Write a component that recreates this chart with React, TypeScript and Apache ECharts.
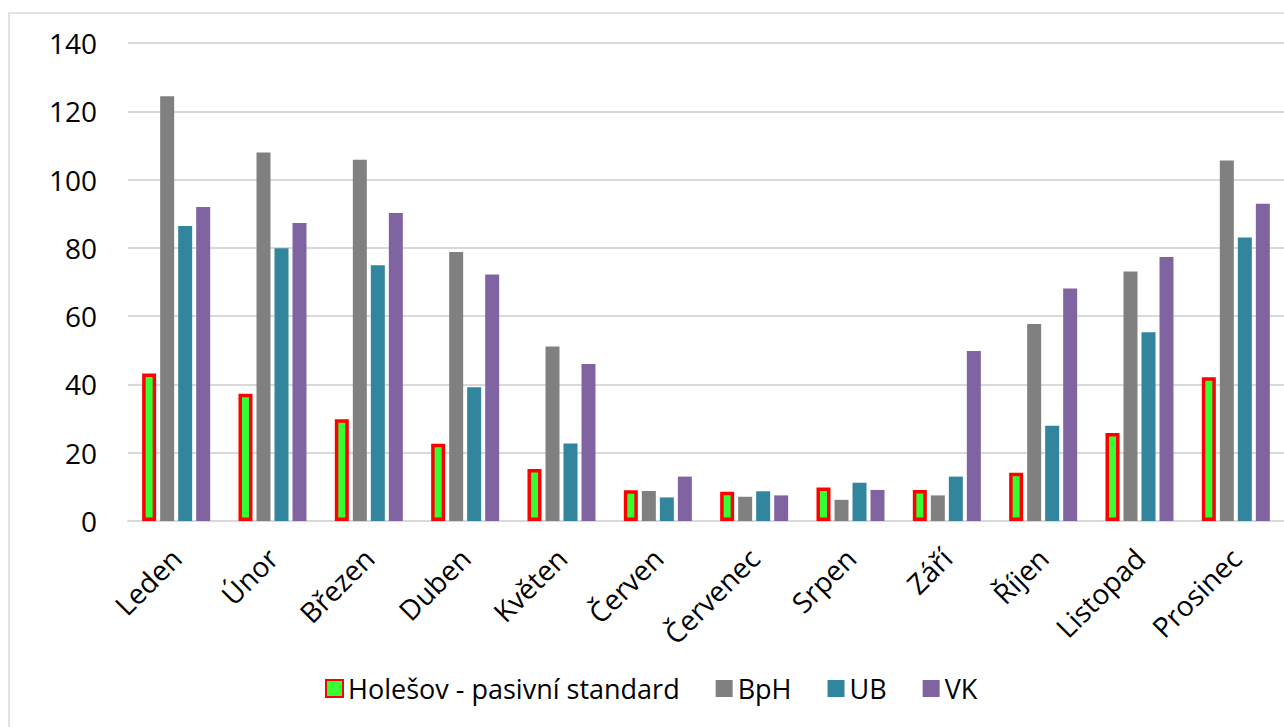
import React, { useEffect, useRef } from "react";
import * as echarts from "echarts";

const categories = ["Leden", "Únor", "Březen", "Duben", "Květen", "Červen", "Červenec", "Srpen", "Září", "Říjen", "Listopad", "Prosinec"];
const holesov = [43.2, 37.3, 29.8, 22.6, 15.2, 9.0, 8.6, 9.8, 9.1, 14.1, 25.8, 42.1];
const bph = [124.4, 107.9, 105.8, 78.8, 51.1, 8.8, 7.1, 6.2, 7.5, 57.7, 73.1, 105.6];
const ub = [86.4, 79.9, 74.9, 39.2, 22.7, 6.9, 8.7, 11.2, 13.0, 27.9, 55.3, 83.0];
const vk = [92.0, 87.3, 90.2, 72.2, 46.0, 13.0, 7.5, 9.1, 49.8, 68.1, 77.3, 92.9];
const yTicks = { min: 0, max: 140, interval: 20 };

const FONT = "Open Sans";

export default function App() {
  const ref = useRef<HTMLDivElement>(null);
  useEffect(() => {
    if (!ref.current) return;
    const chart = echarts.init(ref.current, null, { renderer: "svg" });
    const bar = (name: string, data: number[], color: string, extra: any = {}) => ({
      name,
      type: "bar",
      data,
      barWidth: 14,
      barGap: "28.6%",
      itemStyle: { color, ...extra },
    });
    chart.setOption({
      animation: false,
      backgroundColor: "#ffffff",
      textStyle: { fontFamily: FONT },
      graphic: [
        {
          type: "rect",
          shape: { x: 9, y: 13, width: 1400, height: 800 },
          style: { fill: "none", stroke: "#d9d9d9", lineWidth: 1.5 },
          silent: true,
        },
      ],
      grid: { left: 128, right: -12, top: 43, bottom: 206, containLabel: false },
      legend: {
        bottom: 20,
        left: 320,
        itemWidth: 17,
        itemHeight: 17,
        itemGap: 36,
        icon: "rect",
        textStyle: { fontFamily: FONT, fontSize: 27, color: "#000" },
        data: ["Holešov - pasivní standard", "BpH", "UB", "VK"],
      },
      xAxis: {
        type: "category",
        data: categories,
        axisLine: { show: true, lineStyle: { color: "#d9d9d9", width: 2 } },
        axisTick: { show: false },
        axisLabel: {
          rotate: 45,
          interval: 0,
          margin: 32,
          fontSize: 28,
          fontFamily: FONT,
          color: "#000",
        },
      },
      yAxis: {
        type: "value",
        min: yTicks.min,
        max: yTicks.max,
        interval: yTicks.interval,
        axisLine: { show: false },
        axisTick: { show: false },
        axisLabel: { fontSize: 28, fontFamily: FONT, color: "#000", margin: 31 },
        splitLine: { lineStyle: { color: "#d9d9d9", width: 2 } },
      },
      series: [
        bar("Holešov - pasivní standard", holesov, "#33ff33", { borderColor: "#ff0000", borderWidth: 3.5 }),
        bar("BpH", bph, "#808080"),
        bar("UB", ub, "#31859c"),
        bar("VK", vk, "#8064a2"),
      ],
    });
    return () => chart.dispose();
  }, []);
  return (
    <div
      ref={ref}
      style={{ position: "absolute", left: 0, top: 0, width: 1284, height: 727 }}
    />
  );
}
